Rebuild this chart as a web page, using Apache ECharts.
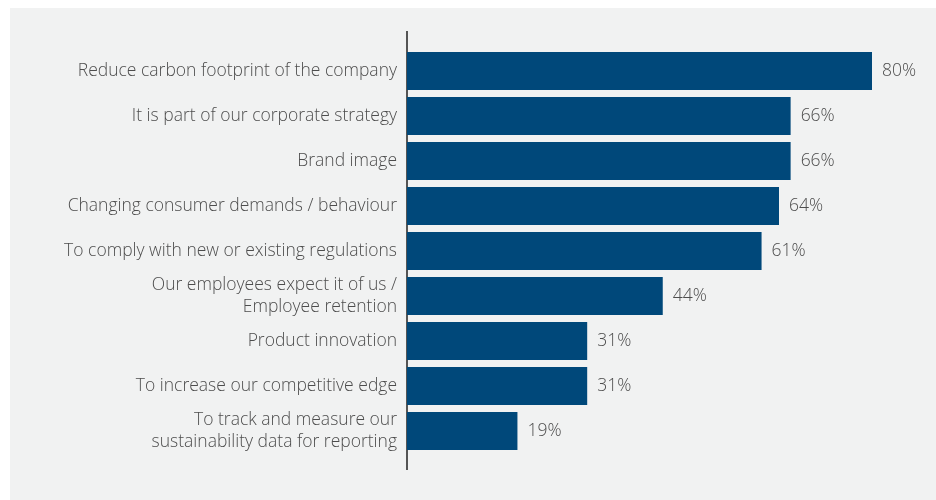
<!DOCTYPE html>
<html>
<head>
<meta charset="utf-8">
<script src="https://cdn.jsdelivr.net/npm/echarts@6/dist/echarts.min.js"></script>
<style>
  html, body { margin: 0; padding: 0; background: #ffffff; }
  #panel { position: absolute; left: 10px; top: 8px; width: 926px; height: 492px; background: #f1f2f2; }
  #chart { position: absolute; left: 0; top: 0; width: 936px; height: 500px; }
</style>
</head>
<body>
<div id="panel"></div>
<div id="chart"></div>
<script>
// Reasons, top to bottom as shown in the chart
const categories = [
  "Reduce carbon footprint of the company",
  "It is part of our corporate strategy",
  "Brand image",
  "Changing consumer demands / behaviour",
  "To comply with new or existing regulations",
  "Our employees expect it of us /\nEmployee retention",
  "Product innovation",
  "To increase our competitive edge",
  "To track and measure our\nsustainability data for reporting"
];
const values = [80, 66, 66, 64, 61, 44, 31, 31, 19];

const textColor = "#4d4d4d";
const barColor = "#00487a";

const chart = echarts.init(document.getElementById("chart"));

const option = {
  backgroundColor: "transparent",
  animation: false,
  grid: {
    left: 407,
    right: 64,
    top: 48.5,
    bottom: 46.5,
    containLabel: false
  },
  xAxis: {
    type: "value",
    min: 0,
    max: 80,
    show: false
  },
  yAxis: {
    type: "category",
    inverse: true,
    data: categories,
    axisLine: { show: false },
    axisTick: { show: false },
    axisLabel: {
      margin: 10,
      color: textColor,
      fontFamily: "Open Sans",
      fontWeight: 300,
      fontSize: 17.5,
      lineHeight: 22
    }
  },
  series: [
    {
      type: "bar",
      data: values,
      barCategoryGap: "15.5%",
      itemStyle: { color: barColor },
      label: {
        show: true,
        position: "right",
        distance: 10,
        formatter: "{c}%",
        color: textColor,
        fontFamily: "Open Sans",
        fontWeight: 300,
        fontSize: 17.5
      }
    }
  ],
  // vertical axis rule, runs past the bars like in the original
  graphic: [
    {
      type: "line",
      shape: { x1: 407, y1: 31, x2: 407, y2: 470 },
      style: { stroke: "#555555", lineWidth: 2 }
    }
  ]
};

chart.setOption(option);
</script>
</body>
</html>
